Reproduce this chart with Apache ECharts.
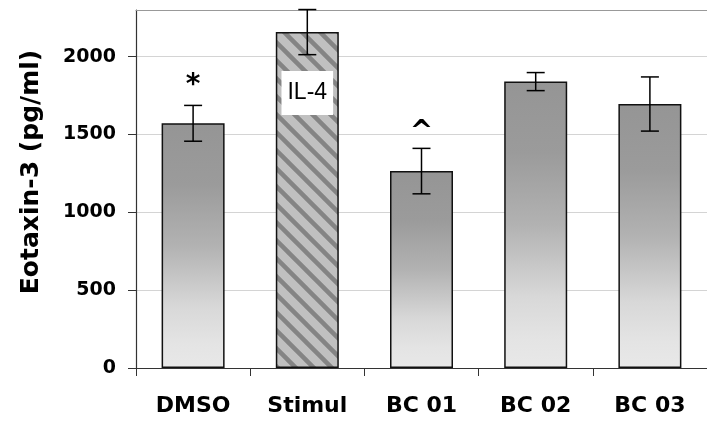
<!DOCTYPE html>
<html>
<head>
<meta charset="utf-8">
<script src="https://cdn.jsdelivr.net/npm/echarts@6/dist/echarts.min.js"></script>
<style>html,body{margin:0;padding:0;background:#fff;}#chart{width:707px;height:421px;}</style>
</head>
<body>
<div id="chart"></div>
<script>
const categories = ['DMSO', 'Stimul', 'BC 01', 'BC 02', 'BC 03'];
const values = [1572, 2158, 1265, 1840, 1696];
const errors = [115, 145, 146, 58, 174];
const marks = ['*', '', '^', '', ''];
const barLabels = ['', 'IL-4', '', '', ''];
const yTicks = [0, 500, 1000, 1500, 2000];

const T = 18;
const pc = document.createElement('canvas');
pc.width = T; pc.height = T;
const pctx = pc.getContext('2d');
pctx.fillStyle = '#c0c0c0';
pctx.fillRect(0, 0, T, T);
pctx.strokeStyle = '#848484';
pctx.lineWidth = 4.5;
pctx.beginPath();
[-T, 0, T].forEach(c => { pctx.moveTo(-4, -4 + c); pctx.lineTo(T + 4, T + 4 + c); });
pctx.stroke();

const grad = new echarts.graphic.LinearGradient(0, 0, 0, 1, [
  {offset: 0, color: '#959595'},
  {offset: 0.25, color: '#9b9b9b'},
  {offset: 0.5, color: '#b2b2b2'},
  {offset: 0.75, color: '#d8d8d8'},
  {offset: 0.9, color: '#e4e4e4'},
  {offset: 1, color: '#e8e8e8'}
]);

const barData = values.map((v, i) => {
  const item = {value: v};
  if (i === 1) {
    item.itemStyle = {color: {image: pc, repeat: 'repeat'}};
  }
  if (barLabels[i]) {
    item.label = {
      show: true, formatter: barLabels[i], position: 'insideTop', distance: 39,
      backgroundColor: '#fff', padding: [11, 6], fontSize: 23,
      fontFamily: 'Liberation Sans', color: '#000', lineHeight: 22
    };
  }
  return item;
});

const chart = echarts.init(document.getElementById('chart'), null, {renderer: 'canvas'});
chart.setOption({
  animation: false,
  backgroundColor: '#fff',
  grid: {left: 136, top: 10, width: 580, height: 358},
  xAxis: [{
    type: 'category', data: categories, position: 'bottom',
    axisLine: {lineStyle: {color: '#333', width: 1.2}},
    axisTick: {show: true, alignWithLabel: false, length: 8, lineStyle: {color: '#333'}},
    axisLabel: {color: '#000', fontSize: 22, fontWeight: 'bold', fontFamily: 'DejaVu Sans', margin: 27}
  }, {
    type: 'category', data: categories, position: 'top',
    axisLine: {lineStyle: {color: '#999', width: 1.2}},
    axisTick: {show: false}, axisLabel: {show: false}
  }],
  yAxis: {
    type: 'value', min: 0, max: 2300, interval: 500,
    name: 'Eotaxin-3 (pg/ml)', nameLocation: 'middle', nameGap: 92,
    nameTextStyle: {color: '#000', fontSize: 25, fontWeight: 'bold', fontFamily: 'DejaVu Sans', padding: [0, 0, 0, 34]},
    axisLine: {show: true, lineStyle: {color: '#333', width: 1.2}},
    axisTick: {show: true, length: 8, lineStyle: {color: '#333'}, customValues: yTicks},
    axisLabel: {
      color: '#000', fontSize: 19, fontWeight: 'bold', fontFamily: 'DejaVu Sans', margin: 20,
      formatter: v => (yTicks.indexOf(v) >= 0 ? String(v) : '')
    },
    splitLine: {show: true, lineStyle: {color: '#d4d4d4', width: 1.2}}
  },
  series: [{
    type: 'bar', data: barData, barWidth: 63,
    itemStyle: {color: grad, borderColor: '#111', borderWidth: 1.5}
  }, {
    type: 'custom', z: 5,
    data: values.map((v, i) => [i, v - errors[i], v + errors[i]]),
    renderItem: (params, api) => {
      const i = api.value(0);
      const lo = api.coord([i, api.value(1)]);
      const hi = api.coord([i, api.value(2)]);
      const cap = 9;
      const style = {stroke: '#000', lineWidth: 1.5};
      const children = [
        {type: 'line', shape: {x1: lo[0], y1: lo[1], x2: hi[0], y2: hi[1]}, style},
        {type: 'line', shape: {x1: lo[0] - cap, y1: lo[1], x2: lo[0] + cap, y2: lo[1]}, style},
        {type: 'line', shape: {x1: hi[0] - cap, y1: hi[1], x2: hi[0] + cap, y2: hi[1]}, style}
      ];
      const m = marks[params.dataIndex];
      if (m) {
        children.push({type: 'text', style: {
          text: m, x: hi[0], y: hi[1] - (m === '*' ? 6 : 2), align: 'center', verticalAlign: 'bottom',
          fontSize: 28, fontWeight: 'bold', fontFamily: 'DejaVu Sans', fill: '#000'
        }});
      }
      return {type: 'group', children};
    }
  }]
});
</script>
</body>
</html>
